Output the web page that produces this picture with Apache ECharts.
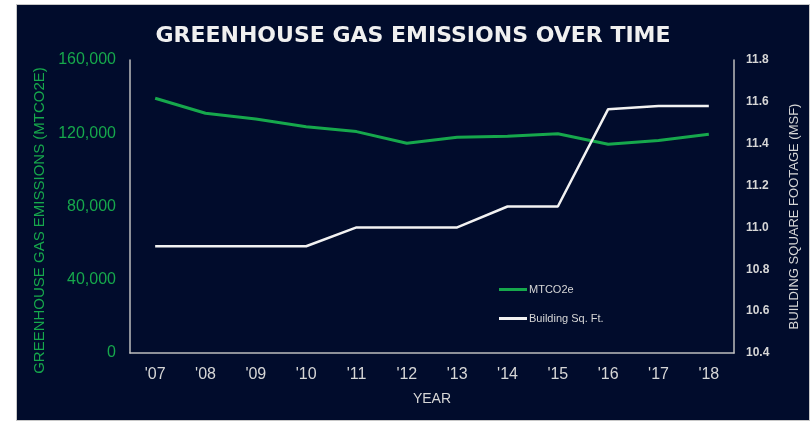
<!DOCTYPE html>
<html>
<head>
<meta charset="utf-8">
<script src="https://cdn.jsdelivr.net/npm/echarts@6/dist/echarts.min.js"></script>
<style>
  html, body { margin: 0; padding: 0; background: #ffffff; }
  #frame {
    position: absolute; left: 16px; top: 4px;
    width: 792px; height: 415px;
    border: 1px solid #c8c8c8;
    background: #010c2c;
  }
  #chart { width: 792px; height: 415px; }
</style>
</head>
<body>
<div id="frame"><div id="chart"></div></div>
<script>
	// 年份
	var years = ["'07", "'08", "'09", "'10", "'11", "'12", "'13", "'14", "'15", "'16", "'17", "'18"];
	// 温室气体排放 (MTCO2e)
	var emissions = [139100, 130900, 127800, 123600, 120900, 114500, 117800, 118300, 119700, 114000, 116100, 119400];
	// 建筑面积 (MSF)
	var buildingSqFt = [10.91, 10.91, 10.91, 10.91, 11.00, 11.00, 11.00, 11.10, 11.10, 11.565, 11.58, 11.58];

	var leftTicks = { min: 0, max: 160000, interval: 40000 };
	var rightTicks = { min: 10.4, max: 11.8, interval: 0.2 };

	var green = '#16a84c';
	var grey = '#d6d6d6';
	var axisGrey = '#bdbdbd';

	var myChart = echarts.init(document.getElementById('chart'));
	myChart.setOption({
		backgroundColor: '#010c2c',
		animation: false,
		title: {
			text: 'GREENHOUSE GAS EMISSIONS OVER TIME',
			left: 'center',
			top: 15,
			textStyle: {
				color: '#f0f0f0',
				fontFamily: 'DejaVu Sans',
				fontWeight: 'bold',
				fontSize: 22
			}
		},
		grid: {
			left: 113,
			right: 69,
			top: 55,
			bottom: 67
		},
		legend: {
			orient: 'vertical',
			left: 477,
			top: 274,
			itemWidth: 28,
			itemHeight: 3,
			itemGap: 18,
			icon: 'rect',
			data: ['MTCO2e', 'Building Sq. Ft.'],
			textStyle: {
				color: grey,
				fontFamily: 'Liberation Sans',
				fontSize: 11,
				padding: [0, 0, 0, -3]
			}
		},
		xAxis: {
			type: 'category',
			data: years,
			boundaryGap: true,
			name: 'YEAR',
			nameLocation: 'middle',
			nameGap: 39,
			nameTextStyle: {
				color: grey,
				fontFamily: 'Liberation Sans',
				fontSize: 14
			},
			axisTick: { show: false },
			axisLabel: {
				color: grey,
				fontFamily: 'Liberation Sans',
				fontSize: 16,
				margin: 14
			},
			axisLine: {
				lineStyle: { color: axisGrey, width: 1.5 }
			},
			splitLine: { show: false }
		},
		yAxis: [
			{
				type: 'value',
				min: leftTicks.min,
				max: leftTicks.max,
				interval: leftTicks.interval,
				position: 'left',
				name: 'GREENHOUSE GAS EMISSIONS (MTCO2E)',
				nameLocation: 'middle',
				nameGap: 79,
				nameTextStyle: {
					color: green,
					fontFamily: 'Liberation Sans',
					fontSize: 15,
					padding: [0, 28, 0, 0]
				},
				axisLine: {
					show: true,
					lineStyle: { color: axisGrey, width: 1.5 }
				},
				axisTick: { show: false },
				axisLabel: {
					color: green,
					fontFamily: 'Liberation Sans',
					fontSize: 16,
					margin: 14,
					formatter: function (v) {
						return v.toLocaleString('en-US');
					}
				},
				splitLine: { show: false }
			},
			{
				type: 'value',
				min: rightTicks.min,
				max: rightTicks.max,
				interval: rightTicks.interval,
				position: 'right',
				name: 'BUILDING SQUARE FOOTAGE (MSF)',
				nameLocation: 'middle',
				nameRotate: 90,
				nameGap: 54,
				nameTextStyle: {
					color: grey,
					fontFamily: 'Liberation Sans',
					fontSize: 13,
					padding: [0, 20, 0, 0]
				},
				axisLine: {
					show: true,
					lineStyle: { color: axisGrey, width: 1.5 }
				},
				axisTick: { show: false },
				axisLabel: {
					color: grey,
					fontFamily: 'Liberation Sans',
					fontWeight: 'bold',
					fontSize: 12,
					margin: 12,
					formatter: function (v) {
						return v.toFixed(1);
					}
				},
				splitLine: { show: false }
			}
		],
		series: [
			{
				name: 'MTCO2e',
				type: 'line',
				yAxisIndex: 0,
				data: emissions,
				showSymbol: false,
				itemStyle: { color: green },
				lineStyle: { color: green, width: 3 }
			},
			{
				name: 'Building Sq. Ft.',
				type: 'line',
				yAxisIndex: 1,
				data: buildingSqFt,
				showSymbol: false,
				itemStyle: { color: '#f2f2f2' },
				lineStyle: { color: '#f2f2f2', width: 2.5 }
			}
		]
	});
</script>
</body>
</html>
